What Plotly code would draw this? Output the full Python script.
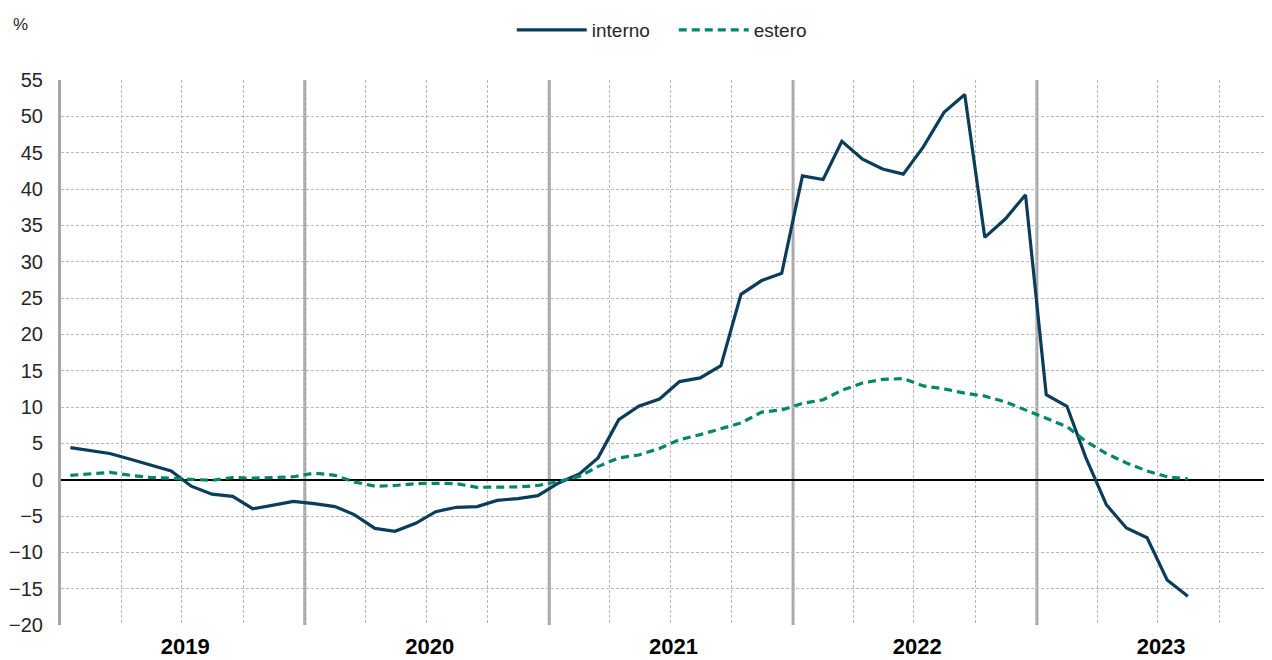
import pandas as pd
import plotly.graph_objects as go

# Monthly observations, Jan 2019 - Aug 2023
months = pd.date_range("2019-01-01", periods=56, freq="MS").strftime("%Y-%m").tolist()

interno = [4.4, 4.0, 3.6, 2.8, 2.0, 1.2, -0.9, -2.0, -2.3, -4.0, -3.5, -3.0,
           -3.3, -3.7, -4.8, -6.7, -7.1, -6.0, -4.4, -3.8, -3.7, -2.85, -2.6, -2.2,
           -0.45, 0.8, 3.0, 8.25, 10.1, 11.1, 13.5, 14.0, 15.7, 25.5, 27.4, 28.4,
           41.8, 41.3, 46.55, 44.1, 42.75, 42.05, 45.8, 50.55, 53.0, 33.35, 35.9, 39.2,
           11.7, 10.1, 3.1, -3.45, -6.65, -8.0, -13.8, -16.05]

estero = [0.6, 0.8, 1.0, 0.6, 0.3, 0.2, 0.0, -0.1, 0.3, 0.2, 0.3, 0.4,
          0.9, 0.6, -0.3, -0.9, -0.8, -0.55, -0.5, -0.55, -1.05, -1.05, -1.0, -0.8,
          -0.25, 0.45, 1.8, 3.0, 3.4, 4.3, 5.5, 6.2, 7.0, 7.8, 9.3, 9.6,
          10.5, 11.0, 12.3, 13.3, 13.8, 13.9, 12.9, 12.5, 11.9, 11.5, 10.7, 9.6,
          8.5, 7.3, 5.3, 3.6, 2.3, 1.2, 0.4, 0.1]

years = [2019, 2020, 2021, 2022, 2023]
year_labels = [str(y) for y in years]

x_dates = pd.to_datetime(months) + pd.Timedelta(days=14)

FONT = "Liberation Sans, Arial, sans-serif"
NAVY = "#0B3D5B"
GREEN = "#00876A"
GRID = "#B8B8B8"

fig = go.Figure()
fig.add_trace(go.Scatter(x=x_dates, y=interno, name="interno", mode="lines",
                         line=dict(color=NAVY, width=3.2)))
fig.add_trace(go.Scatter(x=x_dates, y=estero, name="estero", mode="lines",
                         line=dict(color=GREEN, width=3.2, dash="8px,5px")))

for y in years[1:]:
    fig.add_shape(type="line", xref="x", yref="paper",
                  x0=f"{y}-01-01", x1=f"{y}-01-01", y0=0, y1=1,
                  line=dict(color="#A6A6A6", width=3), layer="below")

# page body has an 8px margin: size figure so plot lands at the reference position
fig.update_layout(
    width=1264, height=652,
    margin=dict(l=53, r=0, t=72, b=35),
    paper_bgcolor="white", plot_bgcolor="white",
    font=dict(family=FONT, size=20, color="#262626"),
    showlegend=True,
    legend=dict(orientation="h", xref="paper", x=0.506, xanchor="center",
                yref="container", y=1 - 22 / 652, yanchor="middle",
                itemwidth=70, entrywidth=77, entrywidthmode="pixels",
                font=dict(size=19, color="#262626"),
                bgcolor="rgba(0,0,0,0)"),
    xaxis=dict(
        type="date",
        range=["2019-01-01", "2023-12-19"],
        tickvals=[f"{y}-07-06" for y in years],
        ticktext=year_labels,
        tickfont=dict(family=FONT, size=22, color="#000000", weight="bold"),
        ticks="", showgrid=False, zeroline=False, showline=False,
        ticklabelstandoff=6, automargin=False,
        minor=dict(dtick="M3", tick0="2019-01-01", showgrid=True,
                   gridcolor=GRID, gridwidth=1, griddash="3px,2px", ticks=""),
    ),
    yaxis=dict(
        range=[-20, 55], dtick=5, tick0=0,
        showgrid=True, gridcolor=GRID, gridwidth=1, griddash="3px,2px",
        zeroline=True, zerolinecolor="#000000", zerolinewidth=1.6,
        showline=True, linecolor="#A6A6A6", linewidth=3,
        ticks="", ticklabelstandoff=11, automargin=False,
        tickfont=dict(family=FONT, size=20, color="#262626"),
    ),
    annotations=[dict(text="%", xref="paper", yref="paper", x=-53/1211, y=1,
                      xanchor="left", yanchor="bottom", yshift=44, xshift=3,
                      showarrow=False, font=dict(family=FONT, size=17, color="#262626"))],
)

fig.write_html("out.html")
